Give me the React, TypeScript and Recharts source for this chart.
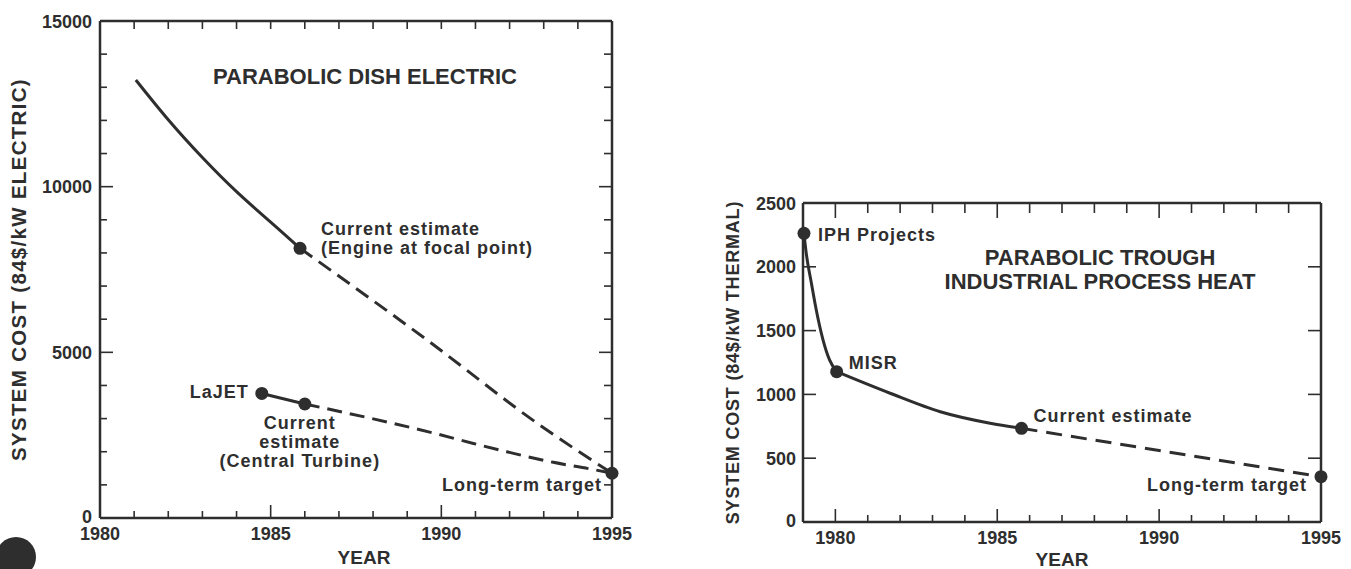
import React from 'react';
import {
  ComposedChart,
  Line,
  Scatter,
  XAxis,
  YAxis,
  ReferenceDot,
  Label
} from 'recharts';

const INK = '#2e2e2e';
const FONT = '"Liberation Sans", Arial, Helvetica, sans-serif';

// ---- left panel: parabolic dish electric (84$/kW electric)
const dishYearTicks = [1980, 1981, 1982, 1983, 1984, 1985, 1986, 1987, 1988, 1989, 1990, 1991, 1992, 1993, 1994, 1995];
const dishYearLabels = [1980, 1985, 1990, 1995];
const dishCostTicks = [0, 1000, 2000, 3000, 4000, 5000, 6000, 7000, 8000, 9000, 10000, 11000, 12000, 13000, 14000, 15000];
const dishCostLabels = [0, 5000, 10000, 15000];

const engineHistYears = [1981.05, 1982, 1983, 1984, 1985, 1985.86];
const engineHistCost = [13220, 12020, 10880, 9850, 8930, 8140];
const engineProjYears = [1985.86, 1989.57, 1992.89, 1995];
const engineProjCost = [8140, 5380, 2800, 1350];
const turbineHistYears = [1984.74, 1986];
const turbineHistCost = [3760, 3440];
const turbineProjYears = [1986, 1989.86, 1990.94, 1991.92, 1993.28, 1994.36, 1995];
const turbineProjCost = [3440, 2540, 2250, 2000, 1680, 1480, 1350];

// ---- right panel: parabolic trough IPH (84$/kW thermal)
const troughYearTicks = [1979, 1980, 1981, 1982, 1983, 1984, 1985, 1986, 1987, 1988, 1989, 1990, 1991, 1992, 1993, 1994, 1995];
const troughYearLabels = [1980, 1985, 1990, 1995];
const troughCostTicks = [0, 500, 1000, 1500, 2000, 2500];

const iphYears = [1979.03, 1979.1, 1979.26, 1979.41, 1979.62, 1979.82, 1980.04];
const iphCost = [2262, 2106, 1871, 1661, 1426, 1270, 1178];
const misrYears = [1980.04, 1981.69, 1983.24, 1984.78, 1985.75];
const misrCost = [1178, 1009, 864, 774, 734];
const troughProjYears = [1985.75, 1995];
const troughProjCost = [734, 355];

const zip = (years: number[], cost: number[]) => years.map((year, i) => ({ year, cost: cost[i] }));

const engineHist = zip(engineHistYears, engineHistCost);
const engineProj = zip(engineProjYears, engineProjCost);
const turbineHist = zip(turbineHistYears, turbineHistCost);
const turbineProj = zip(turbineProjYears, turbineProjCost);
const dishPoints = [engineHist[5], turbineHist[0], turbineHist[1], engineProj[3]];

const iphHist = zip(iphYears, iphCost);
const misrHist = zip(misrYears, misrCost);
const troughProj = zip(troughProjYears, troughProjCost);
const troughPoints = [iphHist[0], misrHist[0], misrHist[4], troughProj[1]];

const txt = { fontFamily: FONT, fontWeight: 700, fill: INK } as const;

interface TickSpec {
  labelled: number[];
  longer: number[];
  major: number;
  minor: number;
  // ticks on the opposite side of the frame
  span: number;
  oppLonger: number[];
  oppMajor: number;
  oppMinor: number;
}

// inward ticks on both sides of the frame (tickSize/tickMargin = 0 so x,y sit on the axis line)
const bottomTick = (s: TickSpec) => (props: any) => {
  const { x, y, payload } = props;
  const v = payload.value;
  const top = y - s.span;
  return (
    <g>
      <line x1={x} x2={x} y1={y} y2={y - (s.longer.includes(v) ? s.major : s.minor)} stroke={INK} strokeWidth={1.6} />
      <line x1={x} x2={x} y1={top} y2={top + (s.oppLonger.includes(v) ? s.oppMajor : s.oppMinor)} stroke={INK} strokeWidth={1.6} />
      {s.labelled.includes(v) && (
        <text x={x} y={y + 22} textAnchor="middle" fontSize={18} {...txt}>
          {v}
        </text>
      )}
    </g>
  );
};

const leftTick = (s: TickSpec, gap: number) => (props: any) => {
  const { x, y, payload } = props;
  const v = payload.value;
  const right = x + s.span;
  return (
    <g>
      <line x1={x} x2={x + (s.longer.includes(v) ? s.major : s.minor)} y1={y} y2={y} stroke={INK} strokeWidth={1.6} />
      <line x1={right} x2={right - (s.oppLonger.includes(v) ? s.oppMajor : s.oppMinor)} y1={y} y2={y} stroke={INK} strokeWidth={1.6} />
      {s.labelled.includes(v) && (
        <text x={x - gap} y={y + (v === 0 ? 4.5 : 6.5)} textAnchor="end" fontSize={18} {...txt}>
          {v}
        </text>
      )}
    </g>
  );
};

// text anchored next to a data point
const note = (lines: string[], dx: number, dy: number, anchor: 'start' | 'middle' | 'end' = 'start') =>
  (props: any) => {
    const { viewBox } = props;
    const cx = viewBox.x + viewBox.width / 2;
    const cy = viewBox.y + viewBox.height / 2;
    return (
      <g>
        {lines.map((line, i) => (
          <text
            key={line}
            x={cx + dx}
            y={cy + dy + i * 19 + 6}
            textAnchor={anchor}
            fontSize={18}
            letterSpacing={1}
            {...txt}
          >
            {line}
          </text>
        ))}
      </g>
    );
  };

const yTitle = (value: string, dx: number, size: number, spacing: number) => (props: any) => {
  const { viewBox } = props;
  const cx = viewBox.x + dx;
  const cy = viewBox.y + viewBox.height / 2;
  return (
    <text x={cx} y={cy} transform={`rotate(-90 ${cx} ${cy})`} textAnchor="middle" dominantBaseline="central"
      fontSize={size} letterSpacing={spacing} {...txt}>
      {value}
    </text>
  );
};

const xTitle = (value: string, dx: number, dy: number) => (props: any) => {
  const { viewBox } = props;
  return (
    <text x={viewBox.x + viewBox.width / 2 + dx} y={viewBox.y + dy} textAnchor="middle" fontSize={19} {...txt}>
      {value}
    </text>
  );
};

const plotTitle = (lines: string[], dx: number, dy: number) => (props: any) => {
  const { viewBox } = props;
  const cx = viewBox.x + viewBox.width / 2 + dx;
  return (
    <g>
      {lines.map((line, i) => (
        <text key={line} x={cx} y={viewBox.y + dy + i * 24} textAnchor="middle" fontSize={22} {...txt}>
          {line}
        </text>
      ))}
    </g>
  );
};

const marker = (props: any) => <circle cx={props.cx} cy={props.cy} r={6.5} fill={INK} />;

const lineStyle = { stroke: INK, strokeWidth: 3, dot: false, isAnimationActive: false, type: 'monotone' as const };
const frame = { stroke: INK, strokeWidth: 2.5 };
const axisBase = { type: 'number' as const, interval: 0 as const, tickSize: 0, tickMargin: 0, tickLine: false, axisLine: frame };

// plot box sizes (px) used for the opposite-side ticks
const DISH_W = 512;
const DISH_H = 497;
const TROUGH_W = 518;
const TROUGH_H = 319;

const DishChart = () => (
  <ComposedChart width={640} height={569} margin={{ top: 20, right: 27, bottom: 0, left: 0 }}>
    <XAxis
      {...axisBase}
      dataKey="year"
      domain={[1980, 1995]}
      ticks={dishYearTicks}
      height={51}
      tick={bottomTick({
        labelled: dishYearLabels, longer: [1985, 1990], major: 13, minor: 7,
        span: DISH_H, oppLonger: [], oppMajor: 8, oppMinor: 8
      })}
    >
      <Label content={xTitle('YEAR', 8, 46)} />
    </XAxis>
    <XAxis {...axisBase} xAxisId="top" orientation="top" dataKey="year" domain={[1980, 1995]} ticks={[]} height={1}>
      <Label content={plotTitle(['PARABOLIC DISH ELECTRIC'], 9, 64)} />
    </XAxis>
    <YAxis
      {...axisBase}
      domain={[0, 15000]}
      ticks={dishCostTicks}
      width={100}
      tick={leftTick({
        labelled: dishCostLabels, longer: [5000, 10000], major: 13, minor: 7,
        span: DISH_W, oppLonger: [5000, 10000], oppMajor: 13, oppMinor: 8
      }, 8)}
    >
      <Label content={yTitle('SYSTEM COST (84$/kW ELECTRIC)', 18, 20.5, 1.3)} />
    </YAxis>
    <YAxis {...axisBase} yAxisId="right" orientation="right" domain={[0, 15000]} ticks={[]} width={1} />
    <Line data={engineHist} dataKey="cost" {...lineStyle} type="natural" />
    <Line data={engineProj} dataKey="cost" {...lineStyle} strokeDasharray="15 8" />
    <Line data={turbineHist} dataKey="cost" {...lineStyle} type="linear" />
    <Line data={turbineProj} dataKey="cost" {...lineStyle} strokeDasharray="15 8" />
    <Scatter data={dishPoints} dataKey="cost" shape={marker} isAnimationActive={false} />
    <ReferenceDot x={engineHist[5].year} y={engineHist[5].cost} r={0} stroke="none"
      label={note(['Current estimate', '(Engine at focal point)'], 21, -19)} />
    <ReferenceDot x={turbineHist[0].year} y={turbineHist[0].cost} r={0} stroke="none"
      label={note(['LaJET'], -13, -1, 'end')} />
    <ReferenceDot x={turbineHist[1].year} y={turbineHist[1].cost} r={0} stroke="none"
      label={note(['Current', 'estimate', '(Central Turbine)'], -5, 19, 'middle')} />
    <ReferenceDot x={engineProj[3].year} y={engineProj[3].cost} r={0} stroke="none"
      label={note(['Long-term target'], -10, 12, 'end')} />
  </ComposedChart>
);

const TroughChart = () => (
  <ComposedChart width={671} height={569} margin={{ top: 202, right: 29, bottom: 0, left: 0 }}>
    <XAxis
      {...axisBase}
      dataKey="year"
      domain={[1979, 1995]}
      ticks={troughYearTicks}
      height={47}
      tick={bottomTick({
        labelled: troughYearLabels, longer: [1980, 1985, 1990], major: 13, minor: 7,
        span: TROUGH_H, oppLonger: [1980, 1985, 1990], oppMajor: 15, oppMinor: 10
      })}
    >
      <Label content={xTitle('YEAR', 0, 44)} />
    </XAxis>
    <XAxis {...axisBase} xAxisId="top" orientation="top" dataKey="year" domain={[1979, 1995]} ticks={[]} height={1}>
      <Label content={plotTitle(['PARABOLIC TROUGH', 'INDUSTRIAL PROCESS HEAT'], 38, 63)} />
    </XAxis>
    <YAxis
      {...axisBase}
      domain={[0, 2500]}
      ticks={troughCostTicks}
      width={123}
      tick={leftTick({
        labelled: troughCostTicks, longer: troughCostTicks, major: 13, minor: 13,
        span: TROUGH_W, oppLonger: troughCostTicks, oppMajor: 13, oppMinor: 13
      }, 7)}
    >
      <Label content={yTitle('SYSTEM COST (84$/kW THERMAL)', 53, 18, 0.8)} />
    </YAxis>
    <YAxis {...axisBase} yAxisId="right" orientation="right" domain={[0, 2500]} ticks={[]} width={1} />
    <Line data={iphHist} dataKey="cost" {...lineStyle} />
    <Line data={misrHist} dataKey="cost" {...lineStyle} />
    <Line data={troughProj} dataKey="cost" {...lineStyle} type="linear" strokeDasharray="16 9" />
    <Scatter data={troughPoints} dataKey="cost" shape={marker} isAnimationActive={false} />
    <ReferenceDot x={troughPoints[0].year} y={troughPoints[0].cost} r={0} stroke="none"
      label={note(['IPH Projects'], 14, 2)} />
    <ReferenceDot x={troughPoints[1].year} y={troughPoints[1].cost} r={0} stroke="none"
      label={note(['MISR'], 12, -9)} />
    <ReferenceDot x={troughPoints[2].year} y={troughPoints[2].cost} r={0} stroke="none"
      label={note(['Current estimate'], 12, -12)} />
    <ReferenceDot x={troughPoints[3].year} y={troughPoints[3].cost} r={0} stroke="none"
      label={note(['Long-term target'], -14, 8, 'end')} />
  </ComposedChart>
);

export default function App() {
  return (
    <div style={{ position: 'absolute', left: 0, top: 0, width: 1351, height: 569, background: '#fff', overflow: 'hidden' }}>
      <div style={{ position: 'absolute', left: 0, top: 0 }}>
        <DishChart />
      </div>
      <div style={{ position: 'absolute', left: 680, top: 0 }}>
        <TroughChart />
      </div>
      {/* punch-hole shadow in the scan */}
      <div style={{ position: 'absolute', left: -4, top: 537, width: 40, height: 40, borderRadius: '50%', background: INK }} />
    </div>
  );
}
